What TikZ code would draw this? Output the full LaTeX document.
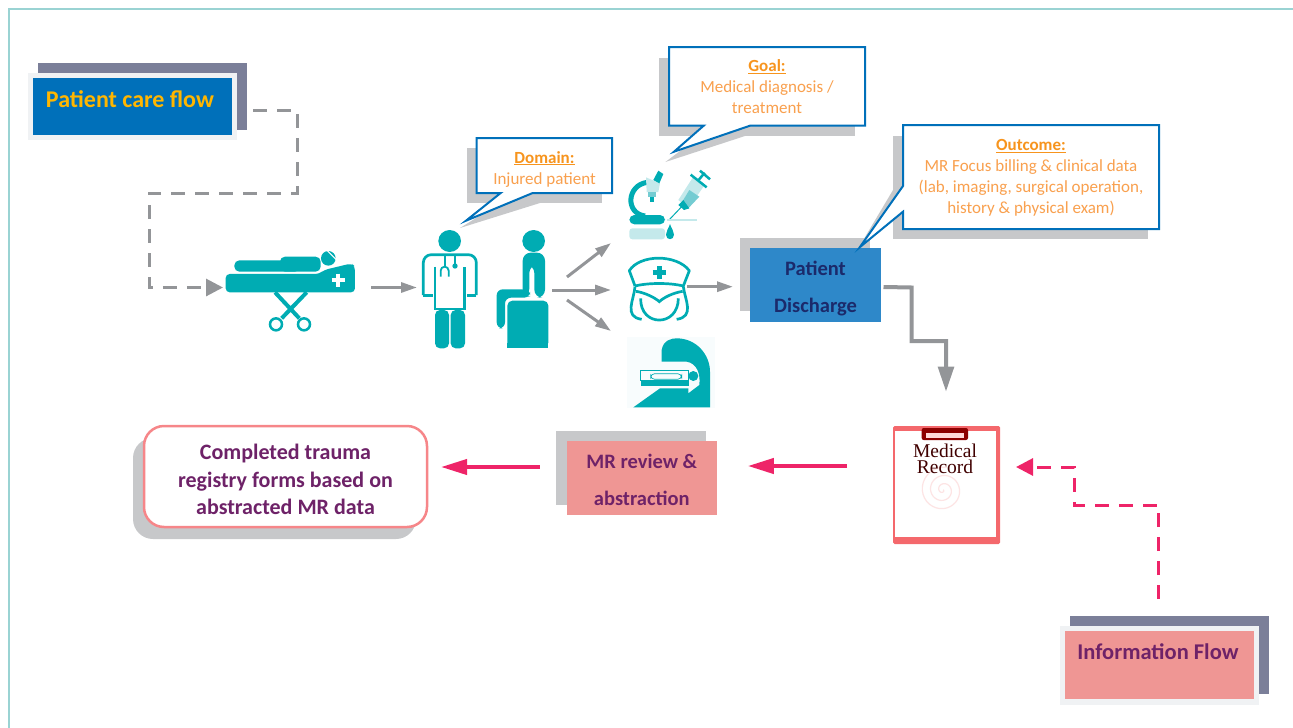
\documentclass[tikz,border=0pt]{standalone}
\usepackage{fontspec}
\setmainfont{Carlito}
\newfontfamily\recordfont{Liberation Serif}
\usetikzlibrary{arrows.meta}

\definecolor{frameteal}{HTML}{9AD3D3}
\definecolor{iconteal}{HTML}{00ACB3}
\definecolor{midteal}{HTML}{74CCD2}
\definecolor{paleteal}{HTML}{C4E9EB}
\definecolor{slateback}{HTML}{7B7F99}
\definecolor{paleedge}{HTML}{F0F2F4}
\definecolor{careblue}{HTML}{0070BA}
\definecolor{dischargeblue}{HTML}{2E88C9}
\definecolor{shadowgrey}{HTML}{C7C8CA}
\definecolor{flowgrey}{HTML}{939598}
\definecolor{flowpink}{HTML}{EE2468}
\definecolor{salmon}{HTML}{EF9694}
\definecolor{plumtext}{HTML}{6E2268}
\definecolor{navytext}{HTML}{1B2A6B}
\definecolor{goldtext}{HTML}{FFB600}
\definecolor{orangehead}{HTML}{F7941D}
\definecolor{orangetext}{HTML}{F9A04E}
\definecolor{recordred}{HTML}{F4686C}

\tikzset{
  block/.style={inner sep=0pt,outer sep=0pt,align=center},
  iconspot/.style={inner sep=0pt,outer sep=0pt},
  stepbox/.style={block,font=\fontsize{20.5}{37.5}\selectfont\bfseries},
  calloutshape/.style={draw=careblue,line width=2pt,fill=white,line join=miter},
  callouttext/.style={block,text=orangetext,font=\fontsize{17}{21}\selectfont},
  dashflow/.style={line width=3pt,dash pattern=on 14pt off 10pt,-{Triangle[length=17pt,width=17pt]}},
  thinflow/.style={flowgrey,line width=3pt,-{Triangle[length=16pt,width=10pt]}},
  pinkflow/.style={flowpink,line width=4pt,-{Triangle[length=26pt,width=15pt]}}
}
\newcommand{\calloutitle}[1]{{\color{orangehead}\bfseries\underline{#1}}}
\newcommand{\dropline}[1]{\rule{0pt}{#1}}

\begin{document}
\begin{tikzpicture}[x=1pt,y=-1pt]
\useasboundingbox (0,0) rectangle (1293,728);
\draw[frameteal,line width=1.2pt] (9,728) -- (9,9) -- (1293,9);

% title boxes
\node[block,fill=slateback,minimum width=209pt,minimum height=67pt] (careback) at (142.5,96.5) {};
\node[block,fill=paleedge,minimum width=209pt,minimum height=67pt] (careedge) at (132.5,106.5) {};
\node[block,font=\fontsize{24}{28}\selectfont\bfseries,fill=careblue,text=goldtext,minimum width=199pt,minimum height=57pt] (careflow) at (132.5,106.5) {\raisebox{15pt}{Patient care flow\hspace{5pt}}};

\node[block,fill=slateback,minimum width=199pt,minimum height=78pt] (infoback) at (1169.5,655) {};
\node[block,fill=paleedge,minimum width=199pt,minimum height=79pt] (infoedge) at (1159.5,665.5) {};
\node[block,font=\fontsize{22.5}{26}\selectfont\bfseries,fill=salmon,text=plumtext,minimum width=189pt,minimum height=68pt] (infoflow) at (1159.5,665) {\raisebox{26pt}{Information Flow\hspace{3pt}}};

% stretcher
\node[iconspot,minimum width=129pt,minimum height=60pt] (stretcher) at (290.5,287.5) {};
\begin{scope}[scale=1/3]
\fill[iconteal,rounded corners=4pt] (677,822) -- (958,822) -- (972,810) -- (1055,790) -- (1065,800) -- (1065,877) -- (677,877) -- cycle;
\fill[iconteal,rounded corners=5pt] (703,781) rectangle (900,815);
\fill[iconteal,rounded corners=5pt] (840,770) rectangle (962,815);
\fill[iconteal] (985,775) circle (22);
\draw[white,line width=1pt] (982,752) -- (1012,782);
\draw[white,line width=4pt] (995,841) -- (1035,841) (1015,821) -- (1015,861);
\draw[iconteal,line width=4pt] (825,877) -- (898,955) (920,877) -- (845,955);
\draw[iconteal,line width=2.5pt,fill=white] (828,973) circle (18) (912,973) circle (18);
\end{scope}

% doctor and seated patient
\node[iconspot,minimum width=57pt,minimum height=118pt] (doctor) at (449.5,287.5) {};
\node[iconspot,minimum width=55pt,minimum height=118pt] (patient) at (524.5,290) {};
\begin{scope}[shift={(410,130)},scale=1/3]
\fill[iconteal] (119,333) ellipse (34 and 33);
\draw[iconteal,line width=2.7pt,rounded corners=8pt] (40,495) -- (40,374) -- (199,374) -- (199,495);
\draw[iconteal,line width=2.7pt] (40,497) -- (68,497) (199,497) -- (170,497);
\draw[iconteal,line width=2.7pt] (75,410) -- (75,537) -- (163,537) -- (163,410);
\fill[iconteal,rounded corners=5pt] (75,540) rectangle (117,655);
\fill[iconteal,rounded corners=5pt] (122,540) rectangle (165,655);
\draw[iconteal,line width=1.8pt] (105,374) -- (105,410) (135,374) -- (135,405);
\draw[iconteal,line width=1.8pt] (92,440) -- (92,422) arc[start angle=180,end angle=360,radius=12] -- (116,440);
\fill[iconteal] (135,408) circle (8);
\fill[iconteal] (371,333) ellipse (34 and 33);
\fill[iconteal,rounded corners=8pt] (338,500) -- (338,368) -- (405,368) -- (405,503) -- (373,503) -- (373,405) -- (358,405) -- (358,500) -- cycle;
\fill[iconteal,rounded corners=6pt] (260,595) -- (260,478) -- (360,478) -- (360,503) -- (285,503) -- (285,595) -- cycle;
\fill[iconteal,rounded corners=5pt] (292,653) -- (292,512) -- (415,512) -- (415,653) -- cycle;
\fill[iconteal] (292,640) rectangle (415,653);

% microscope and syringe
\draw[iconteal,line width=5pt] (712,157) .. controls (650,165) and (645,250) .. (705,258);
\fill[iconteal,rounded corners=5pt] (658,255) rectangle (765,283);
\fill[paleteal,rounded corners=3pt] (658,295) rectangle (765,328);
\fill[paleteal] (708,142) -- (750,160) -- (745,186) -- (710,186) -- cycle;
\fill[iconteal] (730,150) -- (745,122) -- (760,132) -- (748,160) -- cycle;
\fill[midteal] (715,186) rectangle (738,200);
\fill[iconteal] (720,200) rectangle (732,215);
\fill[paleteal] (805,210) -- (850,140) -- (884,165) -- (835,235) -- cycle;
\fill[midteal] (815,218) -- (838,180) -- (868,200) -- (835,235) -- cycle;
\draw[iconteal,line width=2.5pt] (842,134) -- (890,172) (870,122) -- (900,148);
\draw[iconteal,line width=2.5pt] (866,150) -- (884,128);
\fill[iconteal] (805,225) -- (820,210) -- (838,235) -- (822,240) -- cycle;
\draw[iconteal,line width=1pt] (815,230) -- (777,270);
\fill[paleteal] (772,268) rectangle (860,274);
\fill[iconteal] (780,282) .. controls (785,298) and (792,303) .. (792,314) .. controls (792,332) and (768,332) .. (768,314) .. controls (768,303) and (775,298) .. (780,282) -- cycle;

% nurse
\draw[iconteal,line width=2.7pt,line join=round] (675,468) -- (658,422) .. controls (690,372) and (800,372) .. (838,422) -- (820,468) .. controls (780,458) and (715,458) .. (675,468);
\draw[iconteal,line width=5pt] (728,428) -- (768,428) (748,408) -- (748,448);
\draw[iconteal,line width=2.7pt] (692,505) .. controls (690,592) and (805,592) .. (805,505);
\draw[iconteal,line width=2.7pt] (678,484) .. controls (705,488) and (735,503) .. (748,515) .. controls (760,503) and (790,488) .. (818,484);
\draw[iconteal,line width=2.7pt] (675,470) .. controls (672,510) and (640,560) .. (695,568);
\draw[iconteal,line width=2.7pt] (820,470) .. controls (825,510) and (855,560) .. (800,568);

% scanner
\fill[paleteal,opacity=0.12] (650,620) rectangle (915,835);
\fill[iconteal] (755,695) -- (755,660) .. controls (760,630) and (785,625) .. (800,625) .. controls (860,625) and (900,675) .. (900,725) -- (900,832) -- (670,832) -- (750,775) -- (835,775) -- (835,790) -- (868,765) .. controls (872,730) and (860,700) .. (830,695) -- cycle;
\draw[iconteal,line width=1.5pt] (692,722) rectangle (835,752);
\draw[iconteal,line width=0.7pt,rounded corners=4pt] (722,731) rectangle (815,748);
\fill[iconteal] (692,754) rectangle (838,767);
\fill[iconteal] (850,738) circle (15);
\end{scope}
\node[iconspot,minimum width=84pt,minimum height=72pt] (labicon) at (670,206) {};
\node[iconspot,minimum width=59pt,minimum height=60pt] (nurse) at (657.5,286.7) {};
\node[iconspot,minimum width=88pt,minimum height=71pt] (scanner) at (671,372.5) {};

% patient discharge
\fill[shadowgrey] (740,237.5) rectangle (870,311);
\node[stepbox,fill=dischargeblue,text=navytext,minimum width=131pt,minimum height=74pt] (discharge) at (815.5,285) {\dropline{21pt}Patient\\Discharge};

% callouts
\fill[shadowgrey] (466.7,148) rectangle (601.7,203);
\fill[shadowgrey] (460,228) -- (500,203) -- (540,203) -- cycle;
\draw[calloutshape] (476.7,138) -- (612,138) -- (612,193) -- (532.7,193) -- (466,220.7) -- (500.7,193) -- (476.7,193) -- cycle;
\node[callouttext] (domain) at (544.5,167) {\dropline{16pt}\calloutitle{Domain:}\\Injured patient};

\fill[shadowgrey] (659,58) rectangle (854.6,136);
\fill[shadowgrey] (665.4,162) -- (700,136) -- (745,136) -- cycle;
\draw[calloutshape] (669,47) -- (865,47) -- (865,125.7) -- (750,125.7) -- (674,151.7) -- (703.7,125.7) -- (669,125.7) -- cycle;
\node[callouttext] (goal) at (767,87) {\calloutitle{Goal:}\\Medical diagnosis /\\treatment};

\fill[shadowgrey] (893,135.7) rectangle (1148,239);
\fill[shadowgrey] (858.5,248) -- (893,190) -- (900,215) -- cycle;
\draw[calloutshape] (903,125) -- (1159,125) -- (1159,229) -- (903,229) -- (903,211.7) -- (859.7,247.3) -- (903,186) -- cycle;
\node[callouttext] (outcome) at (1031,175.5) {\dropline{16pt}\calloutitle{Outcome:}\\MR Focus billing \& clinical data\\(lab, imaging, surgical operation,\\history \& physical exam)};

% medical record
\node[iconspot,minimum width=107pt,minimum height=118pt] (record) at (946.5,485) {};
\fill[recordred,rounded corners=1.5pt] (893,426) rectangle (1000,544);
\fill[white] (895,431) rectangle (995.7,537);
\fill[black!45!red,rounded corners=2pt] (921.7,428) rectangle (968,440);
\fill[white!85!red] (926,433) rectangle (964,438);
\draw[recordred!18,line width=1.2pt] plot[smooth,domain=0:1000,samples=90] ({943+0.023*\x*cos(\x)},{490+0.023*\x*sin(\x)});
\node[block,font=\recordfont\fontsize{19.5}{16}\selectfont,text=black!75!red] (recordlabel) at (945,459) {Medical\\Record};

% review and final form
\fill[shadowgrey] (556,431) rectangle (705.8,505);
\node[stepbox,fill=salmon,text=plumtext,minimum width=150pt,minimum height=74pt] (mrreview) at (641.8,478) {\dropline{18pt}MR review \&\\abstraction};

\fill[shadowgrey,rounded corners=20pt] (133,438) rectangle (416,539);
\node[block,draw=recordred!80!white,line width=2.5pt,fill=white,rounded corners=20pt,text=plumtext,font=\fontsize{22}{27.5}\selectfont\bfseries,minimum width=283pt,minimum height=101pt] (finalform) at (285.5,476.5) {\dropline{22pt}Completed trauma\\registry forms based on\\abstracted MR data};

% connectors
\draw[flowgrey,dashflow,shorten >=3pt] ([xshift=6pt,yshift=-14.2pt]careback.east) -| (297.7,193) -- (149,193) |- (stretcher.west);
\draw[thinflow,shorten <=16pt,shorten >=4pt] (stretcher.east) -- (doctor.west);
\draw[thinflow,shorten >=17pt] (patient.east) -- (patient.east -| nurse.west);
\coordinate (forkup) at (567,277);
\coordinate (forkdown) at (567,300);
\coordinate (labin) at (611,243);
\coordinate (scanin) at (611,331);
\draw[thinflow] (forkup) -- (labin);
\draw[thinflow] (forkdown) -- (scanin);
\draw[thinflow,shorten >=17pt] (nurse.east) -- (nurse.east -| discharge.west);
\draw[flowgrey,line width=4pt,-{Triangle[length=25pt,width=15.5pt]}] ([xshift=2.5pt,yshift=-2pt]discharge.east) -- (911.5,287.5) -- (911.5,341) -- (946,341) -- (946,391.7);
\draw[pinkflow] ([xshift=-46pt,yshift=19pt]record.west) -- ([xshift=31pt,yshift=12pt]mrreview.east);
\draw[pinkflow] ([xshift=-27pt,yshift=11pt]mrreview.west) -- ([xshift=14pt,yshift=9.5pt]finalform.east);
\draw[flowpink,line width=3pt,dash pattern=on 14pt off 10pt,-{Triangle[length=17pt,width=17pt]},shorten >=16pt] ([xshift=-11pt,yshift=17pt]infoback.north) |- (1074,505) |- ([yshift=18pt]record.east);
\end{tikzpicture}
\end{document}
